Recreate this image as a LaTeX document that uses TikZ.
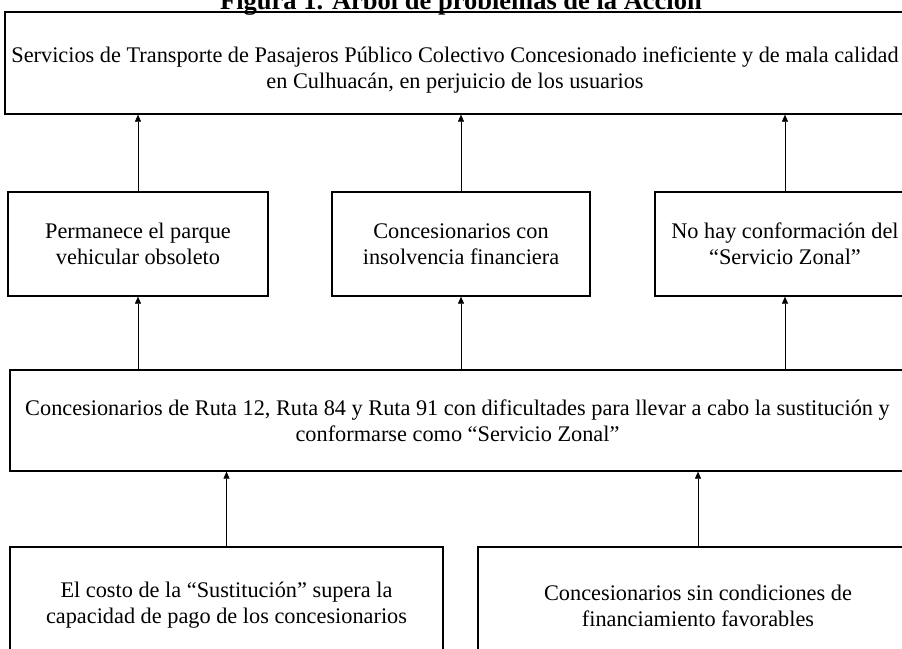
\documentclass[tikz,border=0pt]{standalone}
\usepackage{fontspec}
\setmainfont{Liberation Serif}
\usetikzlibrary{arrows.meta}

\begin{document}
\begin{tikzpicture}[x=1pt, y=1pt,
  every node/.style={font=\fontsize{22.3}{26}\selectfont},
  caja/.style={draw, line width=1.3pt, align=center, inner sep=0pt},
  flecha/.style={-{Triangle[length=7pt,width=6pt]}, line width=0.5pt}]

\useasboundingbox (0,0) rectangle (902,-648);

% title (cut at the top edge)
\node[font=\fontsize{26.5}{28}\selectfont\bfseries, anchor=base] (titulo) at (461,-9) {Figura 1. Árbol de problemas de la Acción};

% effect (text sits a little below the middle)
\node[caja, minimum width=900, minimum height=102] (efecto) at (455,-63) {};
\node[align=center] (efectotxt) at ([yshift=-7]efecto.center)
  {Servicios de Transporte de Pasajeros Público Colectivo Concesionado ineficiente y de mala calidad\\
   en Culhuacán, en perjuicio de los usuarios};

% consequences
\node[caja, minimum width=260, minimum height=104] (parque) at (138,-244)
  {Permanece el parque\\vehicular obsoleto};
\node[caja, minimum width=258, minimum height=104] (insolvencia) at (461,-244)
  {Concesionarios con\\insolvencia financiera};
\node[caja, minimum width=260, minimum height=104] (zonal) at (785,-244)
  {No hay conformación del\\“Servicio Zonal”};

% central problem
\node[caja, minimum width=895, minimum height=101] (problema) at (457.5,-420.5)
  {Concesionarios de Ruta 12, Ruta 84 y Ruta 91 con dificultades para llevar a cabo la sustitución y\\
   conformarse como “Servicio Zonal”};

% causes (cut at the bottom edge)
\node[caja, minimum width=433, minimum height=117] (costo) at (226.5,-605.5)
  {El costo de la “Sustitución” supera la\\capacidad de pago de los concesionarios};
\node[caja, minimum width=440, minimum height=117] (condiciones) at (698,-605.5)
  {Concesionarios sin condiciones de\\financiamiento favorables};

% arrows
\foreach \n in {parque, insolvencia, zonal} {
  \draw[flecha] (\n.north) -- (\n.north |- efecto.south);
  \draw[flecha] (\n.south |- problema.north) -- (\n.south);
}
\foreach \n in {costo, condiciones}
  \draw[flecha] (\n.north) -- (\n.north |- problema.south);

\end{tikzpicture}
\end{document}
